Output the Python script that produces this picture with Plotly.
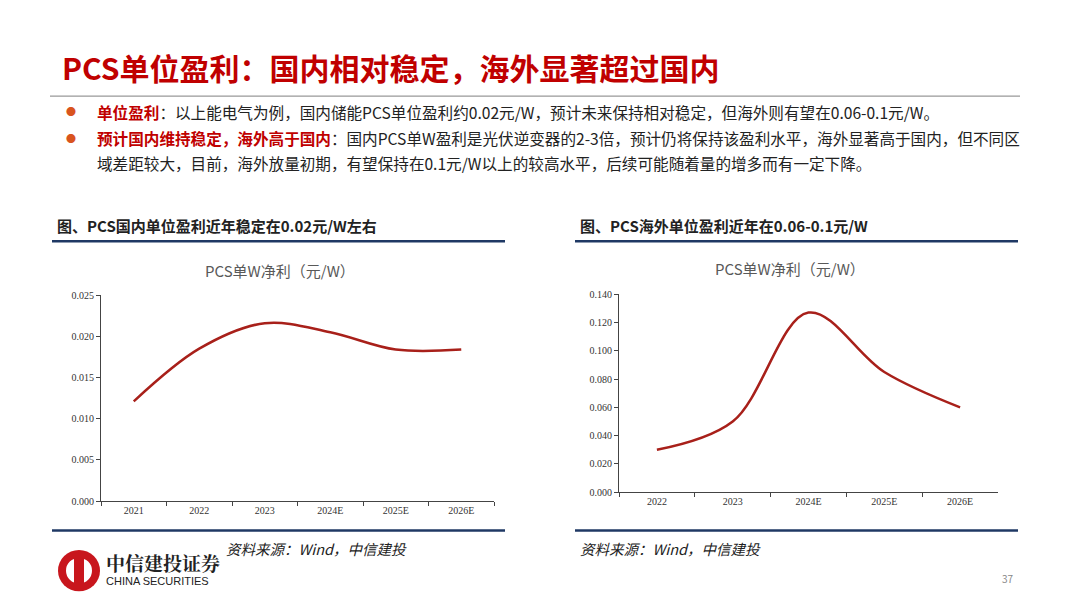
import plotly.graph_objects as go

dom_years = ["2021", "2022", "2023", "2024E", "2025E", "2026E"]
dom_vals = [0.0121, 0.0185, 0.0216, 0.0205, 0.0184, 0.0184]
ovs_years = ["2022", "2023", "2024E", "2025E", "2026E"]
ovs_vals = [0.030, 0.050, 0.127, 0.085, 0.060]
y_ticks_dom = [0.000, 0.005, 0.010, 0.015, 0.020, 0.025]
y_ticks_ovs = [0.000, 0.020, 0.040, 0.060, 0.080, 0.100, 0.120, 0.140]

W, H = 1080, 608
def px(x): return x / W
def py(y): return 1 - y / H

LINE = "#a8201a"
fig = go.Figure()
fig.add_trace(go.Scatter(x=dom_years, y=dom_vals, mode="lines", line=dict(color=LINE, width=2.5, shape="spline", smoothing=1.0), xaxis="x", yaxis="y", showlegend=False))
fig.add_trace(go.Scatter(x=ovs_years, y=ovs_vals, mode="lines", line=dict(color=LINE, width=2.5, shape="spline", smoothing=1.0), xaxis="x2", yaxis="y2", showlegend=False))

tickfont = dict(family="Liberation Serif", size=10, color="#333")
axcommon = dict(showgrid=False, zeroline=False, showline=True, linecolor="#444", linewidth=1, ticks="outside", ticklen=4, tickcolor="#444", tickfont=tickfont)
fig.update_layout(
    autosize=True, margin=dict(l=0, r=0, t=0, b=0),
    paper_bgcolor="white", plot_bgcolor="rgba(0,0,0,0)",
    xaxis=dict(domain=[px(101), px(494)], anchor="y", type="category", tickson="boundaries", range=[-0.5, len(dom_years) - 0.5], **axcommon),
    yaxis=dict(domain=[py(505), py(295)], anchor="x", range=[0, 0.025], tickvals=y_ticks_dom, tickformat=".3f", **axcommon),
    xaxis2=dict(domain=[px(619), px(998)], anchor="y2", type="category", tickson="boundaries", range=[-0.5, len(ovs_years) - 0.5], **axcommon),
    yaxis2=dict(domain=[py(496), py(294)], anchor="x2", range=[0, 0.14], tickvals=y_ticks_ovs, tickformat=".3f", **axcommon),
)

ann = []
def T(x, y, text, size=13, color="#222", xanchor="left", bold=False, family="Noto Sans CJK SC", italic=False):
    if bold: text = "<b>" + text + "</b>"
    if italic: text = "<i>" + text + "</i>"
    ann.append(dict(x=px(x), y=py(y), xref="paper", yref="paper", text=text, showarrow=False, xanchor=xanchor, yanchor="middle", font=dict(size=size, color=color, family=family)))

T(60, 62, "PCS单位盈利：国内相对稳定，海外显著超过国内", size=30, color="#c00000", bold=True)
T(64, 108, "●", size=10, color="#d9541e")
T(64, 135, "●", size=10, color="#d9541e")
T(95, 108, "<b><span style='color:#c00000'>单位盈利</span></b>：以上能电气为例，国内储能PCS单位盈利约0.02元/W，预计未来保持相对稳定，但海外则有望在0.06-0.1元/W。", size=15.6)
T(95, 135, "<b><span style='color:#c00000'>预计国内维持稳定，海外高于国内</span></b>：国内PCS单W盈利是光伏逆变器的2-3倍，预计仍将保持该盈利水平，海外显著高于国内，但不同区", size=15.6)
T(95, 160, "域差距较大，目前，海外放量初期，有望保持在0.1元/W以上的较高水平，后续可能随着量的增多而有一定下降。", size=15.6)
T(55, 224, "图、PCS国内单位盈利近年稳定在0.02元/W左右", size=15, bold=True)
T(578, 224, "图、PCS海外单位盈利近年在0.06-0.1元/W", size=15, bold=True)
T(280, 270, "PCS单W净利（元/W）", size=15, color="#595959", xanchor="center")
T(790, 268, "PCS单W净利（元/W）", size=15, color="#595959", xanchor="center")
T(224, 553, "资料来源：Wind，中信建投", size=14.5, color="#222", italic=True)
T(578, 553, "资料来源：Wind，中信建投", size=14.5, color="#222", italic=True)
T(104, 568, "<b>中信建投证券</b>", size=19, color="#222", family="Noto Serif CJK SC, Noto Sans CJK SC")
T(104, 587, "CHINA SECURITIES", size=11, color="#222", family="Liberation Sans")
T(1016, 584, "37", size=10, color="#888", xanchor="right")
fig.update_layout(annotations=ann)

shapes = [
    dict(type="line", xref="paper", yref="paper", x0=px(50), x1=px(1020), y0=py(92), y1=py(92), line=dict(color="#999", width=1.2)),
    dict(type="line", xref="paper", yref="paper", x0=px(52), x1=px(505), y0=py(240), y1=py(240), line=dict(color="#1f3864", width=2.5)),
    dict(type="line", xref="paper", yref="paper", x0=px(575), x1=px(1018), y0=py(240), y1=py(240), line=dict(color="#1f3864", width=2.5)),
    dict(type="line", xref="paper", yref="paper", x0=px(52), x1=px(505), y0=py(535), y1=py(535), line=dict(color="#1f3864", width=2.5)),
    dict(type="line", xref="paper", yref="paper", x0=px(575), x1=px(1018), y0=py(535), y1=py(535), line=dict(color="#1f3864", width=2.5)),
    dict(type="circle", xref="paper", yref="paper", x0=px(58), x1=px(100), y0=py(597), y1=py(555), fillcolor="#c8161d", line=dict(width=0)),
    dict(type="circle", xref="paper", yref="paper", x0=px(66), x1=px(92), y0=py(589), y1=py(563), fillcolor="white", line=dict(width=0)),
    dict(type="rect", xref="paper", yref="paper", x0=px(74), x1=px(84), y0=py(594), y1=py(558), fillcolor="#c8161d", line=dict(width=0)),
]
fig.update_layout(shapes=shapes)
fig.write_html("out.html", default_width="100vw", default_height="100vh", config={"displayModeBar": False},
               post_script="document.body.style.margin='0';document.body.style.overflow='hidden';Plotly.Plots.resize(document.getElementById('{plot_id}'));")
